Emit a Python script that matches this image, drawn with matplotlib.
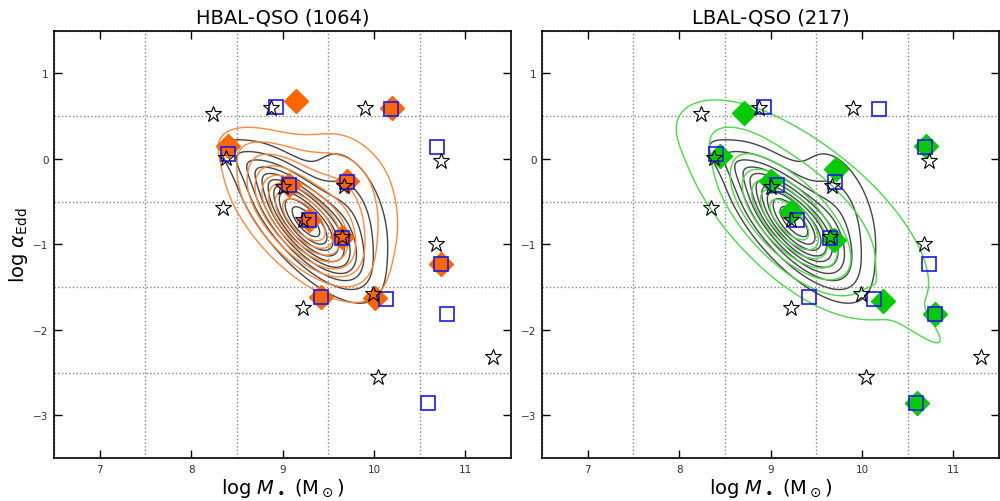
import numpy as np
import matplotlib
matplotlib.use('Agg')
import matplotlib.pyplot as plt
from matplotlib.ticker import MultipleLocator

# open stars (same in both panels)
star_x = [8.24, 8.87, 9.90, 8.38, 8.35, 9.00, 9.67, 9.22, 9.65, 10.68, 10.73, 9.22, 9.99, 11.30, 10.04]
star_y = [0.53, 0.60, 0.60, 0.01, -0.58, -0.33, -0.32, -0.72, -0.91, -1.00, -0.02, -1.75, -1.58, -2.32, -2.55]

# open blue squares (same in both panels)
sq_x = [8.93, 10.19, 10.69, 8.40, 9.07, 9.71, 9.29, 9.65, 10.73, 9.42, 10.13, 10.80, 10.59]
sq_y = [0.61, 0.59, 0.14, 0.06, -0.30, -0.27, -0.72, -0.93, -1.23, -1.62, -1.64, -1.82, -2.86]

# filled diamonds
hbal_x = [9.15, 10.20, 8.40, 9.07, 9.71, 9.29, 9.65, 10.73, 9.42, 10.01]
hbal_y = [0.68, 0.60, 0.15, -0.31, -0.26, -0.72, -0.91, -1.23, -1.62, -1.63]
lbal_x = [8.71, 10.70, 8.45, 9.00, 9.72, 9.22, 9.70, 10.23, 10.80, 10.60]
lbal_y = [0.54, 0.15, 0.04, -0.26, -0.12, -0.62, -0.95, -1.66, -1.82, -2.86]

# density shapes: (weight, x0, y0, sigma_major, sigma_minor, angle)
all_comp = [(1.0, 9.24, -0.73, 0.50, 0.20, -52),
            (0.22, 9.75, -0.62, 0.50, 0.24, -72),
            (0.10, 8.65, -0.08, 0.35, 0.11, -38)]
hbal_comp = [(1.0, 9.20, -0.70, 0.52, 0.24, -50),
             (0.28, 9.75, -0.50, 0.50, 0.30, -72),
             (0.12, 9.05, 0.05, 0.50, 0.18, -15)]
lbal_comp = [(1.0, 9.20, -0.72, 0.48, 0.21, -50),
             (0.20, 9.40, -0.60, 0.98, 0.42, -42),
             (0.05, 10.55, -1.85, 0.40, 0.08, -45),
             (0.05, 8.55, 0.25, 0.32, 0.18, -20)]


def density(X, Y, comps):
    Z = np.zeros_like(X)
    for w, x0, y0, sa, sb, ang in comps:
        t = np.deg2rad(ang)
        u = (X - x0) * np.cos(t) + (Y - y0) * np.sin(t)
        v = -(X - x0) * np.sin(t) + (Y - y0) * np.cos(t)
        Z += w * np.exp(-0.5 * ((u / sa) ** 2 + (v / sb) ** 2))
    return Z / Z.max()


gx, gy = np.meshgrid(np.linspace(6.5, 11.5, 400), np.linspace(-3.5, 1.5, 400))

fig = plt.figure(figsize=(10, 5.02), dpi=100)
ax1 = fig.add_axes([0.054, 0.0857, 0.457, 0.851])
ax2 = fig.add_axes([0.542, 0.0857, 0.457, 0.851])

panels = [(ax1, 'HBAL-QSO (1064)', hbal_x, hbal_y, hbal_comp, '#ff6600', '#ff8a3d',
           np.linspace(0.08, 0.85, 8)),
          (ax2, 'LBAL-QSO (217)', lbal_x, lbal_y, lbal_comp, '#00cc00', '#4cd94c',
           [0.04, 0.12, 0.25, 0.4, 0.55, 0.7, 0.85])]

for ax, title, dx, dy, comp, dcol, ccol, levs in panels:
    Za = density(gx, gy, all_comp)
    ax.contour(gx, gy, Za, levels=np.linspace(0.08, 0.92, 10), colors='#444444', linewidths=1.0, zorder=2)
    Zs = density(gx, gy, comp)
    ax.contour(gx, gy, Zs, levels=levs, colors=ccol, linewidths=1.0, zorder=2)
    ax.plot(dx, dy, 'D', ms=12.5, color=dcol, mec=dcol, zorder=3)
    ax.plot(sq_x, sq_y, 's', ms=10.5, mfc='none', mec='#1a1aee', mew=1.2, zorder=4)
    ax.plot(star_x, star_y, '*', ms=12, mfc='none', mec='black', mew=0.8, zorder=5)

    ax.set_xlim(6.5, 11.5)
    ax.set_ylim(-3.5, 1.5)
    ax.xaxis.set_major_locator(MultipleLocator(1))
    ax.yaxis.set_major_locator(MultipleLocator(1))
    ax.xaxis.set_minor_locator(MultipleLocator(0.5))
    ax.yaxis.set_minor_locator(MultipleLocator(0.5))
    ax.tick_params(which='major', direction='in', top=True, right=True, length=6,
                   width=1, labelsize=7.5, pad=4, labelcolor='#333333')
    ax.tick_params(which='minor', length=0)
    ax.grid(which='minor', ls=':', color='#888888', lw=1)
    for s in ax.spines.values():
        s.set_linewidth(1.2)
    ax.set_title(title, fontsize=14, pad=6)
    ax.set_xlabel(r'log $M_\bullet$ (M$_\odot$)', fontsize=14, labelpad=2)

ax1.set_ylabel(r'log $\alpha_{\rm Edd}$', fontsize=14, labelpad=2)

fig.savefig('out.png', dpi=100)
